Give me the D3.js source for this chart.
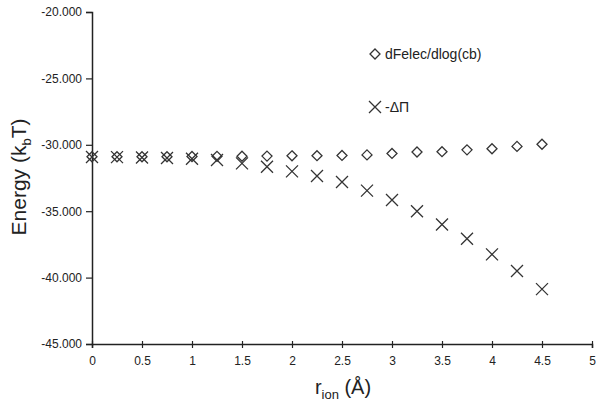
<!DOCTYPE html>
<html>
<head>
<meta charset="utf-8">
<script src="https://cdn.jsdelivr.net/npm/d3@7"></script>
<style>
  body { margin: 0; background: #fff; }
  text { font-family: "Liberation Sans", Arial, sans-serif; fill: #222; }
</style>
</head>
<body>
<div id="chart"></div>
<script>
// r_ion values (Angstrom)
rIon = [0, 0.25, 0.5, 0.75, 1, 1.25, 1.5, 1.75, 2, 2.25, 2.5, 2.75, 3, 3.25, 3.5, 3.75, 4, 4.25, 4.5];

// dFelec/dlog(cb)
dFelec = [-30.9, -30.9, -30.9, -30.9, -30.88, -30.87, -30.86, -30.85, -30.83, -30.82, -30.8, -30.76, -30.65, -30.54, -30.52, -30.38, -30.3, -30.12, -29.96];

// -delta Pi
deltaPi = [-30.92, -30.93, -30.95, -31.0, -31.05, -31.15, -31.4, -31.65, -32.0, -32.35, -32.8, -33.45, -34.16, -35.0, -36.0, -37.07, -38.25, -39.5, -40.87];

xTicks = [0, 0.5, 1, 1.5, 2, 2.5, 3, 3.5, 4, 4.5, 5];
yTicks = [-20, -25, -30, -35, -40, -45];

var width = 601, height = 404;
var margin = { left: 92, right: 9, top: 12, bottom: 60 };

var svg = d3.select("#chart")
    .append("svg")
    .attr("width", width)
    .attr("height", height);

var x = d3.scaleLinear().domain([0, 5]).range([margin.left, width - margin.right]);
var y = d3.scaleLinear().domain([-45, -20]).range([height - margin.bottom, margin.top]);

var stroke = "#333";

// plain hyphen for the minus sign, like the original
var yFmt = function (d) { return d.toFixed(3).replace("\u2212", "-"); };

// axes
var xAxis = svg.append("g")
    .attr("transform", "translate(0," + y(-45) + ")")
    .call(d3.axisBottom(x).tickValues(xTicks).tickSize(4).tickFormat(function (d) { return String(d); }));

var yAxis = svg.append("g")
    .attr("transform", "translate(" + x(0) + ",0)")
    .call(d3.axisLeft(y).tickValues(yTicks).tickSize(6).tickFormat(yFmt));

[xAxis, yAxis].forEach(function (ax) {
    ax.select(".domain").attr("stroke", "#222").attr("stroke-width", 1.5);
    ax.selectAll(".tick line").attr("stroke", "#222").attr("stroke-width", 1.2);
    ax.selectAll(".tick text")
        .style("font-family", "Liberation Sans, Arial, sans-serif")
        .style("font-size", "12px")
        .attr("fill", "#222");
});
xAxis.selectAll(".tick line").attr("y1", -3);
xAxis.selectAll(".tick text").attr("dy", "1.15em");
yAxis.selectAll(".tick text").attr("x", -10);

// diamond and cross markers
function diamond(g, cx, cy) {
    var r = 5;
    g.append("path")
        .attr("d", "M" + cx + "," + (cy - r) + "L" + (cx + r) + "," + cy + "L" + cx + "," + (cy + r) + "L" + (cx - r) + "," + cy + "Z")
        .attr("fill", "none")
        .attr("stroke", stroke)
        .attr("stroke-width", 1.3);
}

function cross(g, cx, cy) {
    var r = 6;
    g.append("path")
        .attr("d", "M" + (cx - r) + "," + (cy - r) + "L" + (cx + r) + "," + (cy + r) + "M" + (cx - r) + "," + (cy + r) + "L" + (cx + r) + "," + (cy - r))
        .attr("fill", "none")
        .attr("stroke", stroke)
        .attr("stroke-width", 1.3);
}

var points = svg.append("g");
rIon.forEach(function (r, i) {
    diamond(points, x(r), y(dFelec[i]));
    cross(points, x(r), y(deltaPi[i]));
});

// legend
var legend = svg.append("g");
diamond(legend, 375, 54);
legend.append("text").attr("x", 385).attr("y", 59).style("font-size", "14px").text("dFelec/dlog(cb)");
cross(legend, 375, 107);
legend.append("text").attr("x", 385).attr("y", 112).style("font-size", "14px").text("-\u0394\u03A0");

// axis titles
var xt = svg.append("text")
    .attr("x", 343)
    .attr("y", 394)
    .attr("text-anchor", "middle")
    .style("font-size", "20px");
xt.append("tspan").text("r");
xt.append("tspan").attr("dy", 5).style("font-size", "13px").text("ion");
xt.append("tspan").attr("dy", -5).text(" (\u00C5)");

var yt = svg.append("text")
    .attr("transform", "translate(26," + 177 + ") rotate(-90)")
    .attr("text-anchor", "middle")
    .style("font-size", "21px");
yt.append("tspan").text("Energy (k");
yt.append("tspan").attr("dy", 5).style("font-size", "13px").text("b");
yt.append("tspan").attr("dy", -5).text("T)");
</script>
</body>
</html>
